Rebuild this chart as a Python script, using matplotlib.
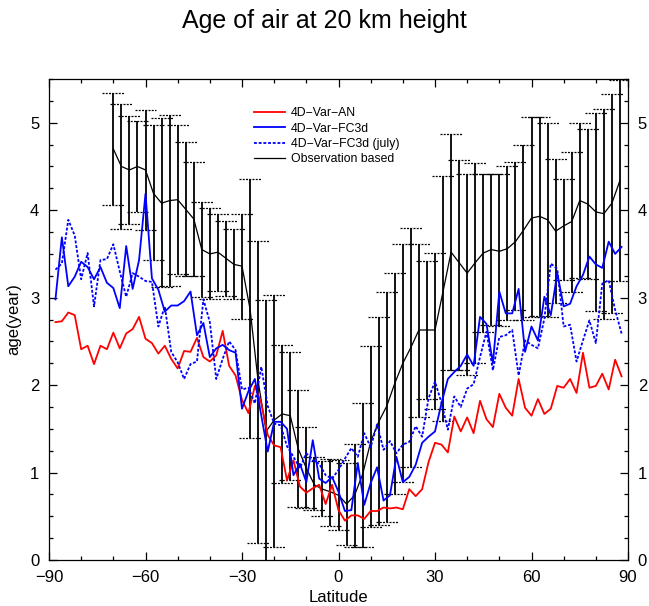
import matplotlib
matplotlib.use('Agg')
import matplotlib.pyplot as plt
from matplotlib.ticker import MultipleLocator

plt.rcParams['font.family'] = ['Liberation Sans', 'DejaVu Sans']

# ---------------- data ----------------
model_lat = list(range(-88, 89, 2))

an = [2.72, 2.73, 2.83, 2.80, 2.41, 2.45, 2.24, 2.45, 2.41, 2.60,
      2.42, 2.59, 2.64, 2.78, 2.53, 2.48, 2.36, 2.45, 2.30, 2.19,
      2.39, 2.38, 2.54, 2.32, 2.27, 2.34, 2.62, 2.22, 2.11, 1.83,
      1.68, 1.99, 1.79, 1.43, 1.31, 1.29, 0.91, 1.14, 0.84, 0.77,
      0.82, 0.86, 0.64, 0.86, 0.57, 0.45, 0.51, 0.51, 0.47, 0.56,
      0.56, 0.60, 0.59, 0.60, 0.58, 0.81, 0.73, 0.81, 1.12, 1.34,
      1.32, 1.23, 1.64, 1.47, 1.63, 1.45, 1.82, 1.61, 1.52, 1.90,
      1.74, 1.65, 2.07, 1.74, 1.65, 1.84, 1.67, 1.73, 1.99, 1.97,
      2.07, 1.91, 2.37, 1.97, 1.99, 2.13, 1.95, 2.29, 2.10]

fc3d = [2.98, 3.69, 3.13, 3.24, 3.41, 3.35, 3.21, 3.35, 3.17, 3.11,
        2.88, 3.59, 3.10, 3.43, 4.19, 3.22, 3.09, 2.84, 2.91, 2.91,
        2.96, 3.07, 2.57, 2.71, 2.32, 2.42, 2.46, 2.40, 2.37, 1.73,
        1.93, 2.07, 1.65, 1.24, 1.58, 1.58, 1.50, 0.97, 1.10, 0.89,
        1.37, 0.93, 0.88, 0.95, 0.78, 0.56, 0.57, 1.11, 0.63, 0.88,
        1.06, 0.68, 0.74, 1.18, 0.89, 0.95, 1.09, 1.34, 1.41, 1.47,
        1.79, 2.07, 2.15, 2.22, 2.35, 2.22, 2.78, 2.70, 2.25, 3.07,
        2.82, 2.82, 3.10, 2.38, 2.67, 2.51, 3.01, 2.80, 3.28, 2.90,
        2.93, 3.13, 3.26, 3.47, 3.38, 3.34, 3.64, 3.50, 3.58]

fc3d_july = [3.32, 3.39, 3.89, 3.71, 3.21, 3.51, 2.90, 3.43, 3.44, 3.61,
             3.30, 3.01, 3.28, 3.24, 3.19, 3.18, 2.67, 2.90, 2.38, 2.26,
             2.07, 2.24, 2.27, 2.98, 2.72, 2.07, 2.30, 2.50, 2.40, 1.95,
             1.97, 1.79, 2.21, 1.76, 1.56, 1.54, 1.30, 1.18, 1.05, 1.22,
             1.14, 1.10, 0.97, 0.93, 1.03, 1.16, 1.28, 1.18, 1.45, 1.29,
             1.55, 1.26, 1.36, 1.22, 1.32, 1.35, 1.53, 1.41, 1.85, 2.04,
             1.80, 1.49, 1.87, 1.75, 1.96, 2.01, 2.32, 2.61, 2.17, 2.55,
             2.57, 2.63, 2.11, 2.51, 2.46, 2.42, 2.76, 3.39, 3.33, 2.67,
             2.69, 2.27, 2.51, 2.74, 2.48, 3.16, 3.20, 2.86, 2.59]

obs_lat = [-70.0, -67.5, -65.0, -62.5, -60.0, -57.5, -55.0, -52.5, -50.0, -47.5,
           -45.0, -42.5, -40.0, -37.5, -35.0, -32.5, -30.0, -27.5, -25.0, -22.5,
           -20.0, -17.5, -15.0, -12.5, -10.0, -7.5, -5.0, -2.5, 0.0, 2.5,
           5.0, 7.5, 10.0, 12.5, 15.0, 17.5, 20.0, 22.5, 25.0, 27.5,
           30.0, 32.5, 35.0, 37.5, 40.0, 42.5, 45.0, 47.5, 50.0, 52.5,
           55.0, 57.5, 60.0, 62.5, 65.0, 67.5, 70.0, 72.5, 75.0, 77.5,
           80.0, 82.5, 85.0, 87.5]

obs_mean = [4.70, 4.50, 4.46, 4.50, 4.46, 4.19, 4.08, 4.11, 4.12, 4.01,
            3.90, 3.55, 3.50, 3.52, 3.45, 3.38, 3.36, 2.87, 2.05, 1.47,
            1.60, 1.67, 1.65, 1.27, 1.05, 0.86, 0.81, 0.78, 0.74, 0.64,
            0.74, 0.98, 1.35, 1.58, 1.76, 2.02, 2.25, 2.43, 2.63, 2.63,
            2.63, 3.07, 3.52, 3.40, 3.28, 3.40, 3.51, 3.55, 3.53, 3.56,
            3.64, 3.77, 3.91, 3.93, 3.89, 3.76, 3.82, 3.87, 4.11, 4.07,
            3.98, 3.96, 4.08, 4.34]

obs_high = [5.34, 5.21, 5.08, 5.02, 5.15, 4.97, 5.05, 5.09, 4.97, 4.78,
            4.55, 4.09, 4.02, 3.96, 3.88, 3.78, 3.96, 4.36, 3.65, 2.97,
            3.03, 2.46, 2.38, 1.94, 1.52, 1.18, 1.13, 1.16, 1.14, 1.11,
            1.33, 1.80, 2.45, 2.78, 3.06, 3.28, 3.61, 3.80, 3.61, 3.42,
            3.51, 4.39, 4.87, 4.57, 4.41, 4.54, 4.41, 4.41, 4.41, 4.51,
            4.55, 4.74, 5.07, 5.07, 5.00, 4.58, 4.36, 4.67, 5.00, 4.93,
            5.11, 5.16, 5.33, 5.49]

obs_low = [4.06, 3.79, 3.84, 3.98, 3.77, 3.43, 3.12, 3.13, 3.27, 3.25,
           3.25, 3.01, 2.98, 3.08, 3.02, 2.98, 2.76, 1.39, 0.19, -0.05,
           0.15, 0.88, 0.91, 0.61, 0.59, 0.57, 0.50, 0.39, 0.34, 0.17,
           0.15, 0.15, 0.38, 0.40, 0.44, 0.76, 0.89, 1.06, 1.63, 1.84,
           1.73, 1.59, 2.17, 2.17, 2.12, 2.25, 2.61, 2.69, 2.67, 2.75,
           2.86, 2.75, 2.78, 2.79, 2.78, 2.94, 3.20, 3.07, 3.22, 3.21,
           2.85, 2.76, 2.83, 3.19]

labels = ['4D\u2212Var\u2212AN', '4D\u2212Var\u2212FC3d',
          '4D\u2212Var\u2212FC3d (july)', 'Observation based']

# ---------------- figure ----------------
W, H = 649, 606
fig = plt.figure(figsize=(W / 100, H / 100), dpi=100)
ax = fig.add_axes([49 / W, 46 / H, (628 - 49) / W, (560 - 79) / H])

cap = 3.4
dots = (0, (1.6, 1.0))
ax.vlines(obs_lat, obs_low, obs_high, colors='black', lw=1.3, zorder=1)
ax.hlines(obs_high, [x - cap for x in obs_lat], [x + cap for x in obs_lat],
          colors='black', lw=0.9, linestyles=[dots], zorder=1)
ax.hlines(obs_low, [x - cap for x in obs_lat], [x + cap for x in obs_lat],
          colors='black', lw=0.9, linestyles=[dots], zorder=1)

l1, = ax.plot(model_lat, an, color='#ff0000', lw=1.3, zorder=3)
l2, = ax.plot(model_lat, fc3d, color='#0000ff', lw=1.3, zorder=3)
l3, = ax.plot(model_lat, fc3d_july, color='#0000ff', lw=1.3, ls=dots, zorder=3)
l4, = ax.plot(obs_lat, obs_mean, color='black', lw=0.9, zorder=2)

ax.set_xlim(-90, 90)
ax.set_ylim(0, 5.5)
ax.set_xticks([-90, -60, -30, 0, 30, 60, 90])
ax.xaxis.set_minor_locator(MultipleLocator(10))
ax.set_yticks([0, 1, 2, 3, 4, 5])
ax.yaxis.set_minor_locator(MultipleLocator(0.25))
ax.tick_params(which='both', direction='in', top=True, right=True,
               labelright=True, labelsize=12, width=0.9)
ax.tick_params(which='major', length=6, pad=7)
ax.tick_params(which='minor', length=3)
for s in ax.spines.values():
    s.set_linewidth(0.9)

ax.set_xlabel('Latitude', fontsize=12, labelpad=4)
ax.set_ylabel('age(year)', fontsize=12, labelpad=6)

fig.text(0.5, 1 - 21 / H, 'Age of air at 20 km height', ha='center',
         va='center', fontsize=18)

leg = ax.legend([l1, l2, l3, l4], labels, loc='upper left',
                bbox_to_anchor=(252 / W, 1 - 105 / H),
                bbox_transform=fig.transFigure, frameon=False, fontsize=8.8,
                handlelength=2.5, handletextpad=0.5, labelspacing=0.27,
                borderpad=0.2, borderaxespad=0)

fig.savefig('out.png', dpi=100)
